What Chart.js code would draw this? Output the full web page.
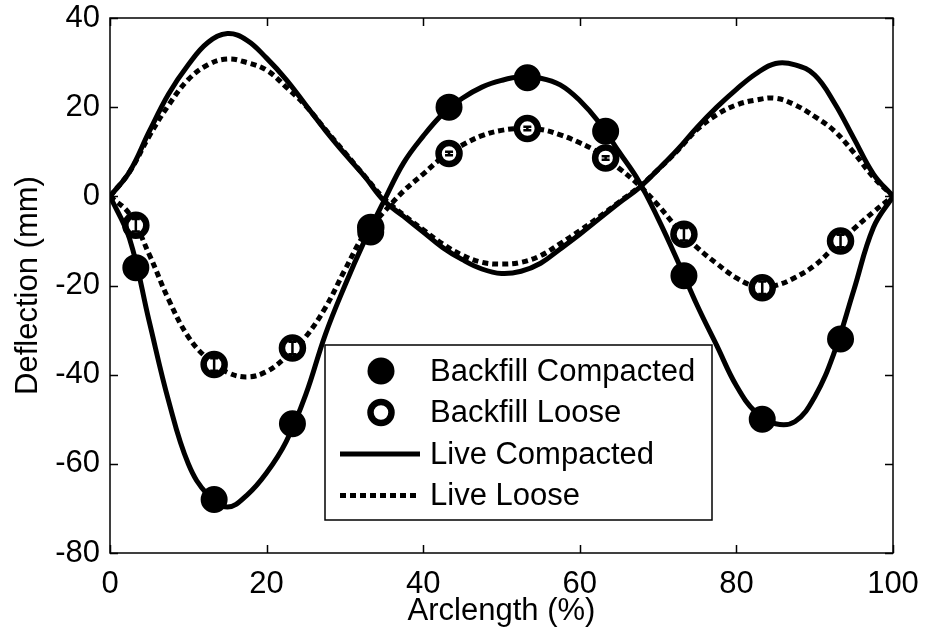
<!DOCTYPE html>
<html>
<head>
<meta charset="utf-8">
<script src="https://cdn.jsdelivr.net/npm/chart.js@4.4.1/dist/chart.umd.min.js"></script>
<style>
  html, body { margin: 0; padding: 0; background: #fff; }
  #wrap { width: 926px; height: 637px; }
</style>
</head>
<body>
<div id="wrap"><canvas id="deflection-chart" width="926" height="637"></canvas></div>
<script>
// Measured backfill deflections at the gauge stations
const stations = [3.3, 13.3, 23.3, 33.3, 43.3, 53.3, 63.3, 73.3, 83.3, 93.3];
const backfillCompacted = [-16, -68, -51, -8, 20, 26.6, 14.6, -17.8, -50, -32];
const backfillLoose = [-6.5, -37.7, -34, -7, 9.6, 15.2, 8.6, -8.5, -20.5, -10];
const backfillLooseErr = [1.4, 1.4, 1.4, 1.4, 0.4, 0.4, 0.4, 1.4, 1.4, 1.4];

// Live-load deflection profiles along the arc
const arclength = [0, 2.5, 5, 7.5, 10, 12.5, 15, 17.5, 20, 22.5, 25, 27.5, 30, 32.5, 35, 37.5, 40,
  42.5, 45, 47.5, 50, 52.5, 55, 57.5, 60, 62.5, 65, 67.5, 70, 72.5, 75, 77.5, 80, 82.5, 85, 87.5,
  90, 92.5, 95, 97.5, 100];
const liveCompactedUp = [0, 5.5, 14.5, 23, 29.5, 34.5, 36.5, 35, 31, 26.2, 20.5, 14.8, 9.5, 4.5, -1,
  -4.5, -8, -11.5, -14.2, -16.3, -17.3, -16.8, -15, -11.8, -8.5, -5, -1.5, 1.8, 6, 10.5, 15.5, 20,
  24, 27.5, 29.8, 29.5, 27.2, 21, 13, 5, 0];
const liveCompactedDown = [0, -9.5, -28, -46, -60, -67, -69.7, -67, -62, -55, -44.5, -31, -20, -10,
  -1, 7.5, 13.5, 18.5, 22, 24.5, 26, 26.8, 26.5, 25, 21.5, 16.5, 10, 3.5, -5, -14.5, -24.5, -33.5,
  -42.5, -48.5, -51, -50.5, -45, -35, -21, -7, 0];
const liveLooseUp = [0, 5.5, 13.5, 20.5, 26.2, 29.5, 30.8, 30, 28.3, 24.5, 20.3, 15, 9.8, 4.6, -0.5,
  -4.2, -7.5, -10.7, -13.2, -14.8, -15.2, -14.8, -13.3, -10.6, -7.7, -4.6, -1.3, 2, 6, 10.3, 15,
  18.3, 20.5, 21.6, 22, 20.5, 17.9, 14.7, 9.8, 4.3, 0];
const liveLooseDown = [0, -4, -13, -23.2, -31.5, -36.5, -39.5, -40.5, -39.3, -36, -31.5, -25, -16.5,
  -8.5, -3.5, 1.2, 5, 8.8, 11.5, 13.6, 14.8, 15.2, 15, 13.8, 12, 9.7, 6.3, 2.6, -2, -7.2, -11.5,
  -15.1, -18.3, -20.2, -20, -18.2, -15.5, -11.4, -7.3, -3.5, 0];

const xTicks = [0, 20, 40, 60, 80, 100];
const yTicks = [-80, -60, -40, -20, 0, 20, 40];

const FONT = "'Liberation Sans', Arial, Helvetica, sans-serif";
const TEXT_SIZE = 31;
Chart.defaults.font.family = FONT;
Chart.defaults.color = '#000';

function pairs(xs, ys) {
  return xs.map((x, i) => ({ x: x, y: ys[i] }));
}

function lineSet(label, ys, dashed) {
  return {
    label: label,
    data: pairs(arclength, ys),
    showLine: true,
    borderColor: '#000',
    borderWidth: 5,
    borderDash: dashed ? [6, 4] : [],
    borderCapStyle: 'butt',
    pointRadius: 0,
    tension: 0.4,
    order: 3
  };
}

const datasets = [
  {
    label: 'Backfill Compacted',
    data: pairs(stations, backfillCompacted),
    pointRadius: 12,
    pointBorderWidth: 3,
    pointBackgroundColor: '#000',
    pointBorderColor: '#000',
    showLine: false,
    order: 0
  },
  {
    label: 'Backfill Loose',
    data: pairs(stations, backfillLoose),
    pointRadius: 10.5,
    pointBorderWidth: 6.5,
    pointBackgroundColor: '#fff',
    pointBorderColor: '#000',
    showLine: false,
    order: 1
  },
  lineSet('Live Compacted', liveCompactedUp, false),
  lineSet('Live Compacted', liveCompactedDown, false),
  lineSet('Live Loose', liveLooseUp, true),
  lineSet('Live Loose', liveLooseDown, true)
];

// axes box with inward ticks on all four sides
const framePlugin = {
  id: 'frame',
  beforeDatasetsDraw(chart) {
    const { ctx, chartArea: a, scales } = chart;
    const len = 8;
    ctx.save();
    ctx.strokeStyle = '#000';
    ctx.lineWidth = 1.5;
    ctx.strokeRect(a.left, a.top, a.right - a.left, a.bottom - a.top);
    ctx.beginPath();
    xTicks.forEach(v => {
      const px = Math.round(scales.x.getPixelForValue(v)) + 0.5;
      ctx.moveTo(px, a.bottom); ctx.lineTo(px, a.bottom - len);
      ctx.moveTo(px, a.top); ctx.lineTo(px, a.top + len);
    });
    yTicks.forEach(v => {
      const py = Math.round(scales.y.getPixelForValue(v)) + 0.5;
      ctx.moveTo(a.left, py); ctx.lineTo(a.left + len, py);
      ctx.moveTo(a.right, py); ctx.lineTo(a.right - len, py);
    });
    ctx.stroke();
    ctx.restore();
  }
};

// small error bars inside the open markers
const errorBarPlugin = {
  id: 'looseErrors',
  afterDatasetsDraw(chart) {
    const { ctx, scales } = chart;
    ctx.save();
    ctx.strokeStyle = '#000';
    ctx.lineWidth = 2.5;
    ctx.beginPath();
    stations.forEach((s, i) => {
      const px = scales.x.getPixelForValue(s);
      const lo = scales.y.getPixelForValue(backfillLoose[i] - backfillLooseErr[i]);
      const hi = scales.y.getPixelForValue(backfillLoose[i] + backfillLooseErr[i]);
      ctx.moveTo(px, lo); ctx.lineTo(px, hi);
      ctx.moveTo(px - 4, lo); ctx.lineTo(px + 4, lo);
      ctx.moveTo(px - 4, hi); ctx.lineTo(px + 4, hi);
    });
    ctx.stroke();
    ctx.restore();
  }
};

// boxed legend sitting inside the plot
const legendPlugin = {
  id: 'boxLegend',
  afterDraw(chart) {
    const ctx = chart.ctx;
    const box = { left: 325, top: 345, right: 712, bottom: 520 };
    const rows = [
      { label: datasets[0].label, kind: 'filled' },
      { label: datasets[1].label, kind: 'open' },
      { label: datasets[2].label, kind: 'solid' },
      { label: datasets[4].label, kind: 'dashed' }
    ];
    ctx.save();
    ctx.fillStyle = '#fff';
    ctx.fillRect(box.left, box.top, box.right - box.left, box.bottom - box.top);
    ctx.strokeStyle = '#000';
    ctx.lineWidth = 1.5;
    ctx.strokeRect(box.left, box.top, box.right - box.left, box.bottom - box.top);
    ctx.font = TEXT_SIZE + 'px ' + FONT;
    ctx.textBaseline = 'middle';
    rows.forEach((r, i) => {
      const cy = 371 + i * 41.5;
      ctx.fillStyle = '#000';
      ctx.strokeStyle = '#000';
      if (r.kind === 'filled') {
        ctx.beginPath(); ctx.arc(381, cy, 13.5, 0, Math.PI * 2); ctx.fill();
      } else if (r.kind === 'open') {
        ctx.lineWidth = 6.5;
        ctx.beginPath(); ctx.arc(381, cy, 10.5, 0, Math.PI * 2);
        ctx.fillStyle = '#fff'; ctx.fill(); ctx.stroke();
        ctx.fillStyle = '#000';
      } else {
        ctx.lineWidth = 5;
        ctx.lineCap = 'butt';
        ctx.setLineDash(r.kind === 'dashed' ? [6, 4] : []);
        ctx.beginPath(); ctx.moveTo(340, cy); ctx.lineTo(420, cy); ctx.stroke();
        ctx.setLineDash([]);
      }
      ctx.fillText(r.label, 430, cy + 1);
    });
    ctx.restore();
  }
};

new Chart(document.getElementById('deflection-chart'), {
  type: 'scatter',
  data: { datasets: datasets },
  options: {
    responsive: false,
    animation: false,
    devicePixelRatio: 1,
    layout: { padding: { top: 18, right: 33, left: 0, bottom: 0 } },
    plugins: {
      legend: { display: false },
      tooltip: { enabled: false }
    },
    scales: {
      x: {
        type: 'linear',
        min: 0,
        max: 100,
        afterBuildTicks: s => { s.ticks = xTicks.map(v => ({ value: v })); },
        afterFit: s => { s.height = 84; s.paddingLeft = 0; s.paddingRight = 0; },
        grid: { display: false, drawTicks: false },
        border: { display: false },
        ticks: { font: { size: TEXT_SIZE }, padding: 13, maxRotation: 0 },
        title: { display: true, text: 'Arclength (%)', font: { size: TEXT_SIZE }, padding: { bottom: 7 } }
      },
      y: {
        type: 'linear',
        min: -80,
        max: 40,
        afterBuildTicks: s => { s.ticks = yTicks.map(v => ({ value: v })); },
        afterFit: s => { s.width = 110; s.paddingTop = 0; s.paddingBottom = 0; },
        grid: { display: false, drawTicks: false },
        border: { display: false },
        ticks: { font: { size: TEXT_SIZE }, padding: 10 },
        title: { display: true, text: 'Deflection (mm)', font: { size: TEXT_SIZE }, padding: { top: 10 } }
      }
    }
  },
  plugins: [framePlugin, errorBarPlugin, legendPlugin]
});
</script>
</body>
</html>
